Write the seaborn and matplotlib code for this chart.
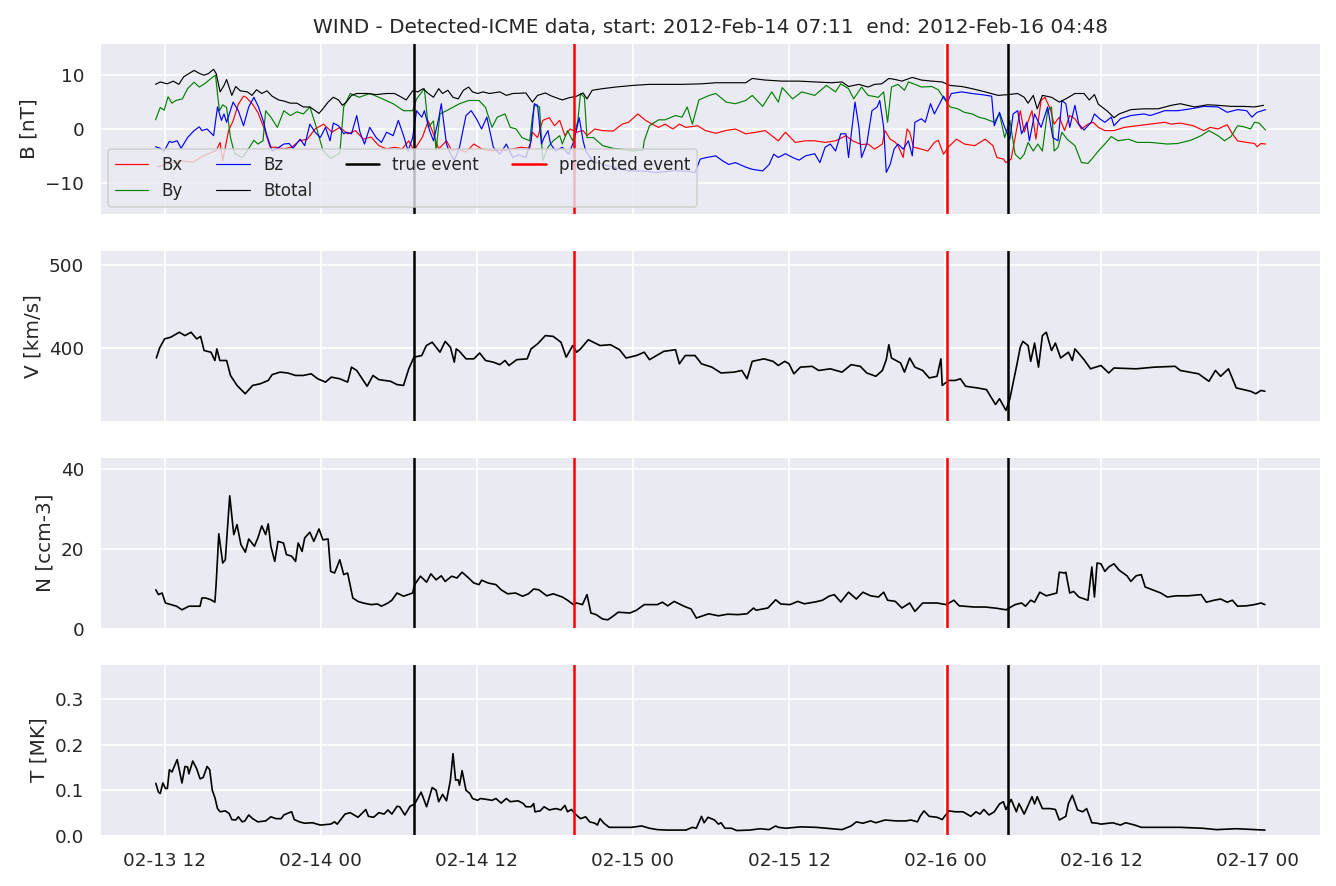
import numpy as np
import pandas as pd
import matplotlib
matplotlib.use("Agg")
import matplotlib.pyplot as plt
import matplotlib.dates as mdates
from matplotlib.ticker import MultipleLocator
from matplotlib.lines import Line2D
import seaborn as sns

sns.set_theme(style="darkgrid", context="notebook")
plt.rcParams["font.family"] = ["DejaVu Sans"]

# ---------------- data (hours after 2012-02-13 11:10, value) ----------------
START = "2012-02-13 11:10"
TITLE = "WIND - Detected-ICME data, start: 2012-Feb-14 07:11  end: 2012-Feb-16 04:48"
true_events = ["2012-02-14 07:11", "2012-02-16 04:48"]
predicted_events = ["2012-02-14 19:30", "2012-02-16 00:10"]

bx = [(0.28,-7.1),(1.0,-6.5),(2.1,-5.9),(3.0,-6.2),(3.9,-4.9),(4.8,-4.0),(5.1,-2.5),(5.3,-5.9),(5.75,-0.3),(6.1,1.5),
      (6.5,4.6),(6.9,6.1),(7.1,5.9),(7.6,4.6),(8.0,3.1),(8.5,0.0),(8.95,-3.4),(9.4,-3.4),(10.0,-3.7),(10.6,-3.4),
      (11.2,-2.2),(11.8,-1.9),(12.4,0.0),(13.05,0.9),(13.7,-0.6),(14.3,0.3),(14.9,-0.9),(15.5,-0.3),(16.1,-1.9),(16.7,-1.5),
      (17.3,-3.1),(17.9,-3.7),(18.5,-3.4),(19.1,-3.7),(19.6,-2.2),(20.0,-4.0),(20.65,-1.5),(21.1,1.5),(21.4,-0.3),(21.9,-3.7),
      (22.5,-2.2),(22.9,-4.0),(23.4,-3.7),(24.0,-4.3),(24.6,-2.8),(25.2,-3.7),(25.8,-4.0),(26.4,-4.0),(27.0,-4.0),(27.6,-3.7),
      (28.2,-3.4),(28.9,-3.6),(29.1,-0.6),(29.5,-1.6),(29.9,1.6),(30.4,2.1),(30.8,0.6),(31.2,1.6),(31.6,-1.25),(32.0,0.0),
      (32.5,-0.6),(33.0,-0.3),(33.3,-1.25),(33.9,0.0),(34.5,-0.3),(35.3,-0.4),(36.0,0.9),(36.5,1.25),(37.2,2.8),(37.8,1.6),
      (38.3,0.9),(38.8,0.3),(39.3,0.9),(39.9,0.0),(40.4,0.9),(40.9,0.3),(41.8,0.6),(42.4,-0.3),(43.2,-0.8),(43.95,-0.3),
      (44.7,0.0),(45.5,-0.9),(46.3,-0.6),(47.0,-0.3),(48.0,-2.2),(48.55,-0.6),(49.3,-2.5),(50.1,-2.2),(50.8,-2.2),(51.6,-2.5),
      (52.4,-2.2),(53.2,-1.25),(53.7,-2.2),(54.4,-2.9),(54.9,-2.8),(55.4,-3.75),(56.0,-2.8),(56.2,-0.3),(56.6,-1.9),(57.0,-2.5),
      (57.2,-3.1),(57.6,-5.3),(57.9,0.0),(58.1,-0.6),(58.4,-3.4),(59.0,-3.75),(59.5,-4.1),(60.0,-2.5),(60.3,-2.1),(60.7,-4.7),
      (61.05,-3.4),(61.7,-1.9),(62.3,-2.8),(63.1,-3.1),(63.9,-1.9),(64.5,-3.1),(64.8,-5.3),(65.3,-5.6),(65.5,-6.25),(65.9,-5.6),
      (66.3,-0.3),(66.6,3.4),(66.9,-0.6),(67.5,3.4),(67.8,-1.9),(68.2,5.3),(68.5,5.9),(68.9,3.75),(69.2,0.9),(69.6,2.2),
      (70.0,-0.3),(70.4,2.5),(70.8,1.9),(71.3,0.0),(71.8,0.9),(72.2,1.25),(72.6,0.3),(73.1,-0.3),(73.8,-0.3),(74.6,0.3),
      (75.6,0.6),(76.6,0.9),(77.7,1.25),(78.2,0.9),(78.9,1.1),(79.9,0.6),(80.7,-0.3),(81.2,0.3),(81.8,0.0),(82.5,0.8),
      (82.9,-0.9),(83.3,-2.2),(84.0,-2.5),(84.6,-2.7),(84.8,-3.3),(85.1,-2.7),(85.45,-2.8)]

by = [(0.14,1.7),(0.5,4.0),(0.8,3.5),(1.1,6.0),(1.4,4.8),(1.7,5.3),(2.2,5.6),(2.6,7.5),(3.1,8.7),(3.5,7.8),
      (3.9,8.4),(4.4,9.4),(4.75,10.0),(4.9,6.5),(5.05,3.4),(5.3,4.5),(5.6,4.0),(5.9,-1.6),(6.2,-4.5),(6.8,-5.3),
      (7.2,-4.0),(7.7,-2.1),(8.0,-2.8),(8.4,-2.2),(8.6,3.4),(9.0,2.2),(9.5,0.3),(10.0,3.4),(10.5,2.5),(11.0,3.2),
      (11.5,2.8),(12.0,4.1),(12.5,0.3),(13.0,-4.0),(13.6,-5.5),(14.3,-4.5),(14.6,4.1),(15.1,6.6),(15.8,5.9),(16.6,6.6),
      (17.3,5.9),(18.4,4.7),(19.2,3.4),(19.9,3.4),(20.2,5.6),(20.8,7.5),(21.1,0.3),(21.5,1.5),(21.7,-4.0),(22.0,2.8),
      (22.5,3.4),(23.5,4.7),(24.2,5.3),(25.0,5.3),(25.5,4.0),(26.0,0.3),(26.4,2.2),(27.0,2.8),(27.4,0.3),(27.85,0.0),
      (28.3,-1.6),(28.9,-2.2),(29.1,2.2),(29.25,4.4),(29.65,4.1),(29.9,-5.9),(30.3,-3.4),(30.7,-2.2),(31.2,-1.25),(31.4,-2.8),
      (31.8,-0.3),(32.2,-2.2),(32.6,1.6),(32.8,6.6),(33.1,5.9),(33.3,-1.6),(33.8,-1.6),(34.5,-3.1),(35.3,-3.6),(36.0,-3.75),
      (36.8,-4.1),(37.6,-3.9),(37.7,-2.2),(38.1,0.6),(38.3,0.9),(38.8,1.7),(39.3,1.7),(40.1,2.5),(40.6,2.2),(41.0,4.1),
      (41.4,0.9),(41.9,5.4),(42.7,6.25),(43.2,6.6),(44.0,5.0),(44.7,4.7),(45.5,5.3),(46.0,6.25),(46.8,4.2),(47.5,6.9),
      (48.0,5.0),(48.3,7.7),(49.1,5.6),(49.8,6.9),(50.8,6.25),(51.7,8.1),(52.4,6.9),(52.8,8.4),(53.4,7.5),(53.8,5.6),
      (54.4,7.8),(54.9,6.25),(55.7,5.9),(56.1,6.9),(56.4,1.25),(56.7,7.8),(57.2,8.3),(57.7,7.2),(58.0,8.75),(58.5,8.3),
      (59.0,7.8),(59.8,7.9),(60.3,7.3),(60.7,5.8),(61.2,4.1),(61.8,3.75),(62.3,3.1),(62.9,2.8),(63.4,2.2),(63.9,1.9),
      (64.6,1.25),(65.0,2.8),(65.4,-1.6),(65.8,1.6),(66.2,-4.7),(66.6,-5.6),(66.9,-4.7),(67.2,-2.5),(67.6,-4.1),(67.95,-2.8),
      (68.3,-4.1),(68.7,3.4),(69.0,4.1),(69.2,-4.1),(69.5,-3.4),(69.8,-0.6),(70.2,-1.9),(70.8,-3.1),(71.3,-6.25),(71.8,-6.4),
      (72.2,-5.3),(72.6,-4.1),(73.1,-2.8),(73.6,-1.4),(74.1,-2.2),(74.9,-1.9),(75.6,-2.5),(76.6,-2.5),(77.9,-2.8),(78.7,-2.7),
      (79.7,-2.1),(80.5,-1.25),(81.1,-0.3),(81.8,-1.25),(82.3,-2.2),(82.8,-1.4),(83.3,0.6),(83.8,0.4),(84.3,0.0),(84.6,1.25),
      (84.95,1.1),(85.45,-0.2)]

bz = [(0.14,-3.3),(0.5,-3.6),(0.8,-4.1),(1.2,-2.3),(1.4,-2.5),(1.8,-2.2),(2.1,-3.6),(2.6,-1.6),(3.1,-0.3),(3.5,0.4),
      (3.7,-0.3),(4.1,0.0),(4.6,-1.25),(4.9,4.1),(5.2,1.6),(5.4,2.8),(5.6,1.25),(6.1,5.0),(6.5,3.4),(6.9,0.6),
      (7.3,4.1),(7.7,5.9),(8.05,4.1),(8.4,1.6),(8.7,-1.25),(9.1,-4.1),(9.5,-3.6),(10.0,-2.8),(10.4,-2.7),(10.7,-3.6),
      (11.25,-1.9),(11.6,-3.1),(12.0,0.9),(12.4,-0.6),(12.8,-1.6),(13.2,0.3),(13.55,-2.2),(13.8,1.1),(14.2,0.6),(14.6,-0.9),
      (14.8,-0.6),(15.2,-0.9),(15.6,2.5),(15.85,-0.6),(16.2,-2.8),(16.6,0.3),(17.1,-1.6),(17.5,-2.5),(17.9,-0.6),(18.4,-1.25),
      (18.8,1.6),(19.2,-1.25),(19.55,-4.1),(19.9,-1.6),(20.2,3.4),(20.6,2.2),(20.8,3.4),(21.2,-0.3),(21.5,-2.2),(21.9,1.9),
      (22.1,4.7),(22.5,-2.8),(22.7,-4.1),(23.1,-5.9),(23.5,-3.4),(24.0,2.5),(24.4,3.4),(24.8,1.9),(25.2,0.0),(25.6,2.2),
      (26.1,-3.4),(26.6,-4.7),(27.1,-2.8),(27.6,-5.3),(28.0,-4.8),(28.6,-5.3),(29.0,-2.2),(29.25,4.7),(29.5,4.4),(29.8,-2.8),
      (30.0,-1.6),(30.3,-0.3),(30.5,-2.8),(30.9,-4.1),(31.4,-3.4),(31.9,-4.7),(32.3,-2.2),(32.7,2.1),(33.0,-2.2),(33.2,-4.1),
      (33.7,-5.9),(34.5,-6.6),(35.5,-7.2),(36.5,-7.8),(37.6,-7.8),(38.6,-8.1),(39.9,-7.8),(40.9,-7.8),(41.6,-8.1),(42.0,-5.6),
      (42.5,-5.3),(43.2,-5.0),(43.7,-5.9),(44.2,-6.6),(44.7,-6.25),(45.5,-7.1),(46.0,-7.5),(46.8,-7.8),(47.3,-6.6),(47.65,-4.7),
      (48.0,-5.3),(48.55,-4.6),(49.1,-5.3),(49.6,-5.8),(50.1,-5.0),(50.8,-4.6),(51.2,-6.25),(51.6,-3.4),(52.0,-2.8),(52.4,-4.1),
      (52.8,-0.9),(53.2,-0.9),(53.4,-5.3),(53.7,0.9),(53.9,5.0),(54.2,0.3),(54.4,-5.3),(54.8,-2.8),(55.2,3.4),(55.6,4.1),
      (55.8,5.3),(56.1,0.3),(56.3,-8.1),(56.6,-6.6),(56.9,-3.75),(57.2,-2.8),(57.6,-3.75),(58.0,-2.2),(58.3,-5.0),(58.5,1.25),
      (59.0,1.9),(59.3,1.25),(59.7,4.7),(60.0,2.8),(60.4,4.7),(60.7,6.1),(61.0,5.0),(61.3,6.6),(62.1,6.9),(62.9,6.6),
      (63.6,6.4),(64.4,6.1),(64.6,0.6),(65.0,3.1),(65.4,0.3),(65.8,-1.9),(66.05,2.8),(66.4,3.4),(66.7,-0.9),(67.1,1.25),
      (67.3,-2.2),(67.7,2.8),(68.2,0.3),(68.7,4.1),(69.1,-1.6),(69.5,-2.2),(69.8,5.3),(70.1,4.7),(70.4,0.3),(70.8,4.4),
      (71.1,0.9),(71.5,-0.2),(72.05,1.25),(72.3,2.8),(72.7,1.9),(73.1,1.25),(73.6,2.2),(73.8,0.6),(74.3,1.9),(75.1,2.5),
      (76.1,2.8),(76.6,2.5),(77.7,3.4),(78.7,3.4),(79.7,3.75),(80.7,4.2),(81.8,4.1),(82.5,3.1),(83.3,3.6),(84.0,3.4),
      (84.4,2.2),(84.8,3.1),(85.45,3.6)]

btotal = [(0.14,8.3),(0.5,8.75),(1.03,8.4),(1.5,8.9),(1.93,8.3),(2.3,9.7),(2.7,10.3),(3.1,10.9),(3.46,10.4),(3.85,10.0),
          (4.2,10.3),(4.6,11.1),(4.8,10.3),(5.1,6.9),(5.4,8.1),(5.6,9.2),(6.0,6.25),(6.3,7.9),(6.65,7.1),(7.2,6.9),
          (7.55,6.25),(7.9,7.3),(8.3,6.6),(8.7,7.1),(9.1,6.1),(9.6,5.4),(10.0,5.2),(10.5,4.8),(11.0,4.8),(11.5,4.1),
          (12.0,4.1),(12.3,3.6),(12.7,2.9),(13.0,3.75),(13.4,5.0),(13.8,5.9),(14.2,5.4),(14.5,4.4),(14.8,5.0),(15.2,6.25),
          (15.6,6.6),(16.4,6.6),(17.1,6.4),(17.9,6.6),(18.5,6.6),(18.9,6.1),(19.4,5.4),(19.9,7.1),(20.3,6.9),(20.7,7.5),
          (21.1,6.6),(21.5,5.9),(21.9,7.5),(22.2,6.6),(22.6,7.2),(23.0,5.9),(23.4,5.6),(23.8,7.2),(24.2,7.8),(24.5,6.9),
          (24.9,6.6),(25.3,6.9),(25.8,6.6),(26.6,6.9),(27.1,6.25),(27.6,6.6),(28.6,6.7),(29.1,5.0),(29.5,6.25),(30.1,6.7),
          (30.6,6.1),(31.4,5.4),(31.9,5.8),(32.5,6.1),(33.0,6.7),(33.3,5.6),(33.7,7.2),(34.5,7.5),(35.5,7.8),(36.8,8.1),
          (38.1,8.3),(39.3,8.3),(40.6,8.3),(42.1,8.4),(43.2,8.6),(44.5,8.6),(45.5,8.6),(46.0,9.4),(47.0,9.1),(48.3,8.9),
          (49.6,8.9),(50.8,8.75),(52.1,8.6),(52.9,8.75),(53.4,7.9),(54.2,8.3),(54.9,7.8),(55.4,8.3),(55.95,8.4),(56.5,9.4),
          (57.0,9.2),(57.5,8.9),(58.3,9.6),(59.0,9.1),(59.8,8.9),(60.6,8.75),(61.2,8.1),(62.1,7.9),(62.9,7.5),(63.9,6.9),
          (64.9,6.25),(65.7,6.4),(66.4,6.6),(66.9,5.9),(67.2,4.8),(67.6,6.25),(67.9,3.75),(68.3,6.25),(69.0,5.9),(69.6,5.0),
          (70.1,5.6),(70.8,6.6),(71.5,6.6),(71.9,5.4),(72.3,6.4),(72.6,4.6),(73.3,3.3),(73.8,2.1),(74.2,2.8),(75.1,3.6),
          (76.1,3.75),(77.2,3.75),(78.2,4.4),(78.9,4.7),(80.0,4.1),(81.0,4.5),(81.8,4.4),(82.8,4.2),(83.8,4.2),(84.6,4.1),
          (85.3,4.4)]

speed = [(0.2,388),(0.45,400),(0.83,411),(1.3,413),(1.96,419),(2.4,415),(2.87,419),(3.3,411),(3.6,414),(3.87,397),
         (4.4,395),(4.7,385),(4.85,399),(5.08,385),(5.6,385),(5.9,367),(6.4,355),(7.03,345),(7.6,355),(8.19,357),
         (8.8,361),(9.1,368),(9.7,371),(10.3,370),(10.9,367),(11.5,367),(12.1,369),(12.6,363),(13.2,359),(13.65,365),
         (14.3,363),(14.9,359),(15.2,377),(15.6,373),(16.4,354),(16.85,367),(17.3,362),(18.2,360),(18.7,356),(19.2,355),
         (19.6,375),(20.0,389),(20.6,391),(20.95,403),(21.4,407),(22.0,395),(22.4,408),(22.8,401),(23.1,383),(23.25,399),
         (23.5,396),(24.0,387),(24.6,387),(25.05,394),(25.5,385),(26.1,383),(26.6,380),(27.0,385),(27.3,379),(27.9,386),
         (28.7,387),(29.0,399),(29.5,405),(30.1,415),(30.7,414),(31.3,407),(31.7,389),(32.2,403),(32.5,395),(32.8,399),
         (33.4,410),(34.3,403),(35.1,404),(35.8,398),(36.3,388),(37.1,391),(37.7,395),(38.1,386),(39.2,396),(40.1,398),
         (40.4,381),(40.85,391),(41.6,391),(42.1,381),(42.9,377),(43.6,370),(44.6,371),(45.2,373),(45.6,363),(46.0,384),
         (46.9,387),(47.6,384),(48.0,379),(48.5,384),(48.83,381),(49.2,369),(49.7,377),(50.6,378),(51.1,373),(52.0,375),
         (52.9,371),(53.6,380),(54.3,378),(54.8,370),(55.5,366),(56.0,373),(56.3,386),(56.5,404),(56.7,388),(57.4,382),
         (57.7,371),(58.1,388),(58.5,377),(59.1,373),(59.6,364),(60.2,366),(60.5,387),(60.6,355),(61.1,361),(61.6,361),
         (62.0,363),(62.4,354),(63.3,352),(64.0,350),(64.7,332),(65.0,339),(65.5,325),(65.8,339),(66.3,377),(66.6,401),
         (66.8,408),(67.2,403),(67.4,384),(67.7,406),(68.0,377),(68.3,415),(68.6,419),(69.0,397),(69.3,406),(69.7,388),
         (70.3,395),(70.6,385),(70.8,399),(71.5,386),(72.0,375),(72.8,379),(73.4,370),(73.8,376),(75.5,375),(76.9,377),
         (78.5,378),(78.9,373),(80.3,369),(81.1,360),(81.6,373),(82.0,366),(82.6,375),(83.2,352),(84.3,348),(84.7,345),
         (85.1,349),(85.4,348)]

density = [(0.16,9.8),(0.36,8.6),(0.64,9.0),(0.9,6.5),(1.33,6.1),(1.75,5.7),(2.17,4.8),(2.7,5.7),(3.56,5.7),(3.7,7.75),
           (4.0,7.75),(4.4,7.3),(4.7,6.7),(4.8,11.5),(5.0,23.8),(5.3,16.5),(5.5,17.3),(5.84,33.3),(6.15,23.6),(6.4,26.1),
           (6.7,21.1),(7.04,19.2),(7.3,22.5),(7.74,20.7),(8.0,22.75),(8.3,25.8),(8.6,23.6),(8.8,26.3),(9.0,20.7),(9.3,16.9),
           (9.55,21.9),(9.97,21.5),(10.2,18.6),(10.6,18.2),(10.9,16.9),(11.1,21.5),(11.4,19.4),(11.6,22.75),(12.0,24.2),(12.3,21.9),
           (12.7,25.0),(13.0,22.3),(13.4,22.5),(13.6,14.4),(13.9,14.0),(14.3,17.3),(14.6,13.6),(14.9,14.0),(15.3,7.75),(15.7,6.9),
           (16.1,6.5),(16.7,6.1),(17.2,6.25),(17.5,5.7),(18.0,6.5),(18.3,7.2),(18.7,9.0),(19.2,8.2),(19.9,9.0),(20.05,11.1),
           (20.5,13.2),(20.97,11.7),(21.3,13.8),(21.7,12.3),(22.1,13.3),(22.4,11.9),(22.9,13.2),(23.3,12.75),(23.7,14.2),(24.2,12.75),
           (24.6,11.5),(25.0,11.1),(25.2,12.2),(25.7,11.5),(26.3,11.1),(26.7,9.8),(27.2,8.8),(27.8,9.0),(28.35,8.2),(28.8,8.8),
           (29.2,10.0),(29.6,9.8),(30.2,8.3),(30.7,8.8),(31.4,8.0),(31.8,7.2),(32.25,6.1),(32.5,6.5),(32.95,6.1),(33.3,8.6),
           (33.6,4.0),(34.0,3.6),(34.5,2.5),(34.9,2.3),(35.3,3.2),(35.7,4.2),(36.6,4.0),(37.1,4.7),(37.7,6.1),(38.1,6.1),
           (38.7,6.1),(39.1,6.7),(39.5,5.8),(40.0,6.9),(40.75,5.7),(41.3,5.0),(41.7,2.75),(42.1,3.2),(42.65,3.8),(43.4,3.3),
           (44.1,3.7),(44.9,3.6),(45.6,3.8),(46.1,5.25),(46.3,4.7),(47.2,5.25),(47.8,7.3),(48.2,6.25),(48.9,6.1),(49.5,6.9),
           (50.0,6.3),(50.9,6.8),(51.4,7.2),(51.9,8.2),(52.3,8.6),(52.8,6.75),(53.4,9.2),(54.0,7.5),(54.5,9.2),(55.1,8.3),
           (55.7,8.0),(56.1,9.2),(56.4,7.2),(57.0,6.9),(57.5,5.25),(58.1,6.5),(58.5,4.4),(59.1,6.5),(60.2,6.5),(60.9,6.1),
           (61.5,7.2),(61.9,5.8),(63.05,5.5),(63.9,5.5),(64.75,5.2),(65.5,4.8),(66.2,6.1),(66.7,6.5),(67.0,5.7),(67.4,7.2),
           (67.7,6.7),(68.1,9.2),(68.6,8.3),(69.4,9.0),(69.6,14.2),(70.0,14.0),(70.1,14.2),(70.4,9.0),(70.7,9.4),(71.1,8.0),
           (71.8,7.2),(72.1,15.5),(72.3,8.0),(72.5,16.5),(72.8,16.3),(73.1,14.4),(73.4,15.5),(73.8,16.3),(74.2,14.7),(74.8,13.3),
           (75.1,11.9),(75.5,13.3),(75.9,13.6),(76.2,10.5),(76.6,10.0),(77.4,9.0),(77.9,8.0),(78.6,8.3),(79.5,8.3),(80.5,8.6),
           (80.9,6.7),(81.5,7.2),(82.0,7.5),(82.5,6.7),(82.9,7.2),(83.3,5.7),(84.0,5.8),(84.6,6.1),(85.1,6.5),(85.4,6.1)]

temperature = [(0.16,0.115),(0.36,0.096),(0.5,0.093),(0.7,0.116),(0.9,0.104),(1.05,0.104),(1.2,0.145),(1.4,0.140),(1.8,0.167),(2.17,0.116),
               (2.4,0.152),(2.6,0.151),(2.7,0.136),(3.0,0.164),(3.3,0.147),(3.56,0.125),(3.8,0.128),(4.1,0.152),(4.3,0.145),(4.5,0.100),
               (4.7,0.084),(4.9,0.060),(5.1,0.053),(5.5,0.055),(5.8,0.049),(6.0,0.036),(6.3,0.035),(6.5,0.042),(6.8,0.031),(7.0,0.033),
               (7.3,0.046),(7.6,0.038),(8.0,0.031),(8.6,0.033),(9.0,0.042),(9.4,0.038),(9.8,0.038),(10.0,0.046),(10.4,0.051),(10.6,0.053),
               (10.8,0.036),(11.2,0.031),(11.6,0.028),(12.2,0.029),(12.8,0.024),(13.6,0.026),(13.9,0.031),(14.1,0.026),(14.7,0.048),(15.1,0.051),
               (15.4,0.046),(15.7,0.041),(15.95,0.048),(16.3,0.058),(16.5,0.043),(16.9,0.041),(17.3,0.051),(17.7,0.048),(18.0,0.057),(18.3,0.048),
               (18.7,0.065),(18.9,0.064),(19.3,0.046),(19.7,0.065),(20.05,0.070),(20.55,0.096),(20.97,0.064),(21.4,0.106),(21.7,0.100),(21.9,0.075),
               (22.2,0.091),(22.5,0.077),(22.8,0.122),(23.0,0.180),(23.2,0.122),(23.4,0.123),(23.5,0.111),(23.7,0.143),(24.0,0.100),(24.3,0.093),
               (24.5,0.082),(24.9,0.078),(25.1,0.082),(25.6,0.080),(26.0,0.078),(26.3,0.082),(26.7,0.072),(27.1,0.082),(27.4,0.075),(28.0,0.077),
               (28.4,0.071),(28.6,0.064),(29.0,0.064),(29.2,0.071),(29.3,0.053),(29.7,0.055),(30.0,0.064),(30.4,0.057),(30.9,0.060),(31.3,0.057),
               (31.6,0.067),(31.8,0.053),(32.1,0.058),(32.4,0.048),(32.8,0.038),(33.2,0.042),(33.5,0.031),(33.9,0.028),(34.1,0.024),(34.3,0.038),
               (34.6,0.028),(35.0,0.019),(35.9,0.019),(36.7,0.019),(37.5,0.022),(38.1,0.017),(38.7,0.014),(39.5,0.013),(40.9,0.013),(41.4,0.019),
               (41.7,0.017),(42.1,0.043),(42.3,0.029),(42.6,0.041),(43.1,0.035),(43.4,0.026),(43.6,0.029),(43.9,0.017),(44.4,0.017),(44.8,0.012),
               (45.8,0.013),(46.6,0.016),(47.3,0.014),(47.8,0.022),(48.0,0.019),(48.6,0.017),(49.7,0.020),(50.9,0.019),(51.7,0.017),(52.9,0.014),
               (53.6,0.022),(54.0,0.031),(54.5,0.028),(55.1,0.033),(55.5,0.029),(56.2,0.035),(57.1,0.033),(57.8,0.033),(58.2,0.035),(58.7,0.031),
               (58.9,0.043),(59.2,0.055),(59.6,0.043),(60.2,0.041),(60.6,0.036),(61.1,0.055),(61.6,0.053),(62.2,0.053),(62.8,0.043),(63.2,0.053),
               (63.5,0.048),(63.8,0.058),(64.2,0.046),(64.6,0.053),(65.0,0.070),(65.3,0.075),(65.5,0.058),(65.9,0.080),(66.3,0.053),(66.5,0.071),
               (66.9,0.048),(67.2,0.067),(67.5,0.086),(67.7,0.070),(67.9,0.086),(68.3,0.060),(68.9,0.060),(69.3,0.058),(69.6,0.035),(70.1,0.043),
               (70.3,0.071),(70.6,0.089),(71.0,0.057),(71.4,0.053),(71.7,0.060),(72.1,0.029),(72.5,0.028),(72.8,0.026),(73.7,0.029),(74.3,0.024),
               (74.7,0.029),(75.4,0.024),(75.9,0.019),(77.2,0.019),(78.9,0.019),(80.6,0.017),(81.7,0.014),(83.2,0.016),(84.6,0.014),(85.4,0.013)]


def to_frame(pairs):
    hours, values = zip(*pairs)
    times = pd.Timestamp(START) + pd.to_timedelta(np.array(hours), unit="h")
    return pd.DataFrame({"time": times, "value": np.array(values, dtype=float)})


fig, axes = plt.subplots(4, 1, figsize=(1336 / 120, 886 / 120), dpi=120, sharex=True)
fig.subplots_adjust(left=0.0749, right=0.9888, top=0.9515, bottom=0.0564, hspace=0.2035)

# --- panel 1 : magnetic field ---
ax = axes[0]
for series, col in [(bx, "red"), (by, "green"), (bz, "blue"), (btotal, "black")]:
    sns.lineplot(data=to_frame(series), x="time", y="value", ax=ax, color=col,
                 linewidth=0.7, estimator=None)
ax.set_ylim(-16, 16)
ax.yaxis.set_major_locator(MultipleLocator(10))
ax.set_ylabel("B [nT]")
ax.set_title(TITLE, fontsize=12)

# --- other panels ---
panels = [(speed, "V [km/s]", (311, 518), 100),
          (density, "N [ccm-3]", (0, 43), 20),
          (temperature, "T [MK]", (0, 0.376), 0.1)]
for ax, (series, label, lim, step) in zip(axes[1:], panels):
    sns.lineplot(data=to_frame(series), x="time", y="value", ax=ax, color="black",
                 linewidth=1.0, estimator=None)
    ax.set_ylim(*lim)
    ax.yaxis.set_major_locator(MultipleLocator(step))
    ax.set_ylabel(label)

for ax in axes:
    for t in true_events:
        ax.axvline(pd.Timestamp(t), color="black", linewidth=1.5)
    for t in predicted_events:
        ax.axvline(pd.Timestamp(t), color="red", linewidth=1.5)
    ax.set_xlabel("")

axes[-1].xaxis.set_major_locator(mdates.HourLocator(byhour=[0, 12]))
axes[-1].xaxis.set_major_formatter(mdates.DateFormatter("%m-%d %H"))
axes[-1].yaxis.set_major_formatter(matplotlib.ticker.FormatStrFormatter("%.1f"))

handles = [Line2D([], [], color="red", lw=0.7, label="Bx"),
           Line2D([], [], color="green", lw=0.7, label="By"),
           Line2D([], [], color="blue", lw=0.7, label="Bz"),
           Line2D([], [], color="black", lw=0.7, label="Btotal"),
           Line2D([], [], color="black", lw=1.5, label="true event"),
           Line2D([], [], color="red", lw=1.5, label="predicted event")]
axes[0].legend(handles=handles, loc="lower left", ncol=4, fontsize=10)

fig.savefig("out.png", dpi=120)
